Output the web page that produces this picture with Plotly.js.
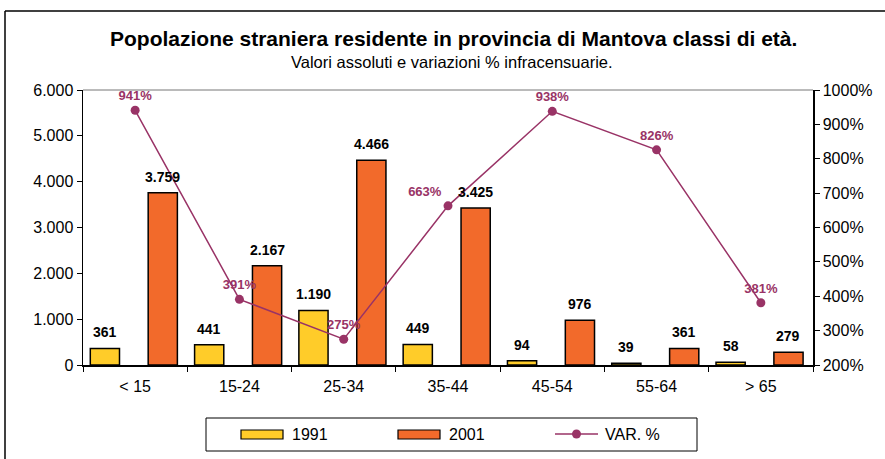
<!DOCTYPE html>
<html><head><meta charset="utf-8">
<script src="https://cdn.plot.ly/plotly-3.0.1.min.js"></script>
<style>html,body{margin:0;padding:0;background:#fff}#chart{width:885px;height:459px}</style>
</head><body><div id="chart"></div>
<script>
const categories = ['< 15','15-24','25-34','35-44','45-54','55-64','> 65'];
const pop1991 = [361, 441, 1190, 449, 94, 39, 58];
const pop2001 = [3759, 2167, 4466, 3425, 976, 361, 279];
const varPct = [941, 391, 275, 663, 938, 826, 381];
const seriesNames = ['1991', '2001', 'VAR. %'];

const W = 885, H = 459, L = 83, R = 72, T = 90, B = 94;
const pw = W - L - R, ph = H - T - B;
const catW = pw / categories.length;
const px = x => (x - L) / pw;
const py = y => (H - B - y) / ph;

const FONT = 'Arial, "Liberation Sans", sans-serif';
const YEL = '#FFCC29', ORA = '#F26A2B', PUR = '#993366';
const BAR_W = 0.28, OFF1 = -0.43, OFF2 = 0.125;

const traces = [
  {type:'bar', name:seriesNames[0], x:categories, y:pop1991, width:BAR_W, offset:OFF1,
   marker:{color:YEL, line:{color:'#000', width:1.5}}, hoverinfo:'y'},
  {type:'bar', name:seriesNames[1], x:categories, y:pop2001, width:BAR_W, offset:OFF2,
   marker:{color:ORA, line:{color:'#000', width:1.5}}, hoverinfo:'y'},
  {type:'scatter', name:seriesNames[2], x:categories, y:varPct, yaxis:'y2',
   mode:'lines+markers+text', line:{color:PUR, width:1.5}, marker:{color:PUR, size:9},
   text:varPct.map(v => v + '%'),
   textposition:['top center','top center','top center','top left','top center','top center','top center'],
   cliponaxis:false,
   textfont:{family:FONT, size:13, color:PUR, weight:'bold'}}
];

const fmt = v => v.toString().replace(/\B(?=(\d{3})+(?!\d))/g, '.');

const legendItems = [
  {kind:'bar', color:YEL, x:241, tx:290, label:seriesNames[0]},
  {kind:'bar', color:ORA, x:398, tx:447, label:seriesNames[1]},
  {kind:'line', color:PUR, x:555, tx:603, label:seriesNames[2]}
];

const shapes = [
  {type:'line', xref:'paper', yref:'paper', x0:px(5), x1:px(885), y0:py(11), y1:py(11), line:{color:'#000', width:1.5}},
  {type:'line', xref:'paper', yref:'paper', x0:px(5), x1:px(5), y0:py(11), y1:py(459), line:{color:'#000', width:1.5}},
  {type:'line', xref:'paper', yref:'paper', x0:0, x1:1, y0:1, y1:1, line:{color:'#777', width:1}},
  {type:'rect', xref:'paper', yref:'paper', x0:px(206), x1:px(697), y0:py(418), y1:py(451), line:{color:'#000', width:1}}
];
const annotations = [
  {text:'<b>Popolazione straniera residente in provincia di Mantova classi di età.</b>', xref:'paper', yref:'paper',
   x:px(453), y:py(39), showarrow:false, font:{family:FONT, size:21, color:'#000'}, xanchor:'center', yanchor:'middle'},
  {text:'Valori assoluti e variazioni % infracensuarie.', xref:'paper', yref:'paper',
   x:px(452), y:py(62), showarrow:false, font:{family:FONT, size:16.5, color:'#000'}, xanchor:'center', yanchor:'middle'}
];
// bar value labels
[[pop1991, OFF1], [pop2001, OFF2]].forEach(([vals, off]) => {
  vals.forEach((v, i) => {
    annotations.push({text:'<b>' + fmt(v) + '</b>', xref:'x', yref:'y', x:categories[i], y:v,
      xshift:(off + BAR_W / 2) * catW, yshift:6, yanchor:'bottom', xanchor:'center', showarrow:false,
      font:{family:FONT, size:14, color:'#000'}});
  });
});
legendItems.forEach(it => {
  if (it.kind === 'bar') {
    shapes.push({type:'rect', xref:'paper', yref:'paper', x0:px(it.x), x1:px(it.x+42), y0:py(430), y1:py(439),
      fillcolor:it.color, line:{color:'#000', width:1.2}});
  } else {
    shapes.push({type:'line', xref:'paper', yref:'paper', x0:px(it.x), x1:px(it.x+43), y0:py(434), y1:py(434),
      line:{color:it.color, width:1.5}});
    shapes.push({type:'circle', xref:'paper', yref:'paper', x0:px(it.x+17), x1:px(it.x+26), y0:py(438.5), y1:py(429.5),
      fillcolor:it.color, line:{color:it.color, width:0}});
  }
  annotations.push({text:it.label, xref:'paper', yref:'paper', x:px(it.tx), y:py(434), showarrow:false,
    xanchor:'left', yanchor:'middle', font:{family:FONT, size:16, color:'#000'}});
});

const layout = {
  width:W, height:H, margin:{l:L, r:R, t:T, b:B},
  paper_bgcolor:'#fff', plot_bgcolor:'#fff',
  separators:',.', showlegend:false, barmode:'group',
  font:{family:FONT, size:16, color:'#000'},
  xaxis:{type:'category', showline:true, linecolor:'#000', linewidth:1.5, ticks:'outside', tickson:'boundaries',
    ticklen:5, tickcolor:'#000', showgrid:false, tickfont:{size:16}, ticklabelstandoff:6},
  yaxis:{range:[0,6000], dtick:1000, tickformat:',d', separatethousands:true, showline:true, linecolor:'#000', linewidth:1.5,
    ticks:'outside', ticklen:5, tickcolor:'#000', showgrid:false, zeroline:false, tickfont:{size:16}},
  yaxis2:{overlaying:'y', side:'right', range:[200,1000], dtick:100, ticksuffix:'%', showline:true, linecolor:'#000', linewidth:1.5,
    ticks:'outside', ticklen:5, tickcolor:'#000', showgrid:false, zeroline:false, tickfont:{size:16}},
  shapes:shapes, annotations:annotations
};
Plotly.newPlot('chart', traces, layout, {displayModeBar:false, staticPlot:true});
</script></body></html>
